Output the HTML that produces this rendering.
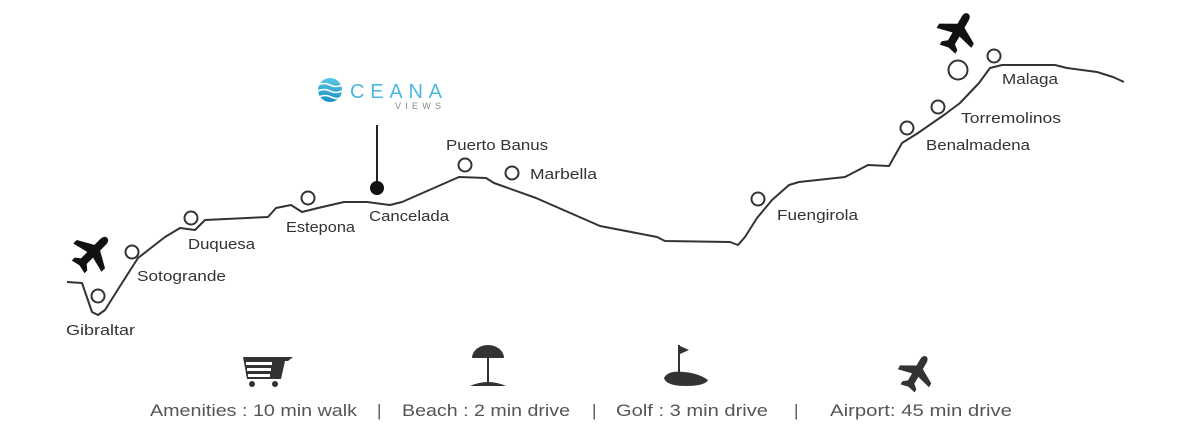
<!DOCTYPE html>
<html><head><meta charset="utf-8"><style>
body{margin:0;background:#fff;width:1200px;height:443px;overflow:hidden}
svg{display:block}
text{font-family:"Liberation Sans",sans-serif}
</style></head><body>
<svg width="1200" height="443" viewBox="0 0 1200 443">
<defs><linearGradient id="g" x1="0" y1="0" x2="0" y2="1"><stop offset="0" stop-color="#5ac8e8"/><stop offset="1" stop-color="#1a8fc4"/></linearGradient>
<path id="pl" d="M0,-20 c3,0 4,3 4,6 v8 l16,9 v5 l-16,-4 v9 l5,4 v4 l-9,-2 l-9,2 v-4 l5,-4 v-9 l-16,4 v-5 l16,-9 v-8 c0,-3 1,-6 4,-6z"/></defs>
<path d="M67,282 L82,283 L92,312 L98,315 L105,310 L122,283 L138,258 L165,237 L180,228 L195,230 L205,220 L268,217 L276,208 L291,205 L302,212 L318,208 L344,202 L367,202 L390,205 L402,202 L459,177 L486,178 L494,183 L536,198 L600,226 L657,237 L665,241 L730,242 L738,245 L745,237 L757,218 L772,200 L789,185 L799,182 L845,177 L868,165 L889,166 L902,143 L918,133 L944,115 L960,103 L979,83 L990,68 L1002,65 L1055,65 L1067,68 L1097,72 L1113,77 L1124,82" fill="none" stroke="#333" stroke-width="2" stroke-linejoin="round"/>
<g fill="#fff" stroke="#333" stroke-width="2">
<circle cx="98" cy="296" r="6.5"/><circle cx="132" cy="252" r="6.5"/><circle cx="191" cy="218" r="6.5"/><circle cx="308" cy="198" r="6.5"/><circle cx="465" cy="165" r="6.5"/><circle cx="512" cy="173" r="6.5"/><circle cx="758" cy="199" r="6.5"/><circle cx="907" cy="128" r="6.5"/><circle cx="938" cy="107" r="6.5"/><circle cx="958" cy="70" r="9.5"/><circle cx="994" cy="56" r="6.5"/>
</g>
<line x1="377" y1="125" x2="377" y2="185" stroke="#222" stroke-width="2"/>
<circle cx="377" cy="188" r="7" fill="#111"/>
<circle cx="330" cy="90" r="12" fill="url(#g)"/>
<g stroke="#fff" stroke-width="1.6" fill="none"><path d="M318,85 q6,-3 12,0 t12,0"/><path d="M318,91 q6,-3 12,0 t12,0"/><path d="M319,97 q6,-3 12,0 t11,0"/></g>
<text x="350" y="98" font-size="20" fill="#4cb8de" textLength="92" lengthAdjust="spacing">CEANA</text>
<text x="395" y="109" font-size="9" fill="#888" textLength="46" lengthAdjust="spacing">VIEWS</text>
<g font-size="15" fill="#333">
<text x="66" y="335" textLength="69" lengthAdjust="spacingAndGlyphs">Gibraltar</text><text x="137" y="281" textLength="89" lengthAdjust="spacingAndGlyphs">Sotogrande</text><text x="188" y="249" textLength="67" lengthAdjust="spacingAndGlyphs">Duquesa</text><text x="286" y="232" textLength="69" lengthAdjust="spacingAndGlyphs">Estepona</text><text x="369" y="221" textLength="80" lengthAdjust="spacingAndGlyphs">Cancelada</text><text x="446" y="150" textLength="102" lengthAdjust="spacingAndGlyphs">Puerto Banus</text><text x="530" y="179" textLength="67" lengthAdjust="spacingAndGlyphs">Marbella</text><text x="777" y="220" textLength="81" lengthAdjust="spacingAndGlyphs">Fuengirola</text><text x="926" y="150" textLength="104" lengthAdjust="spacingAndGlyphs">Benalmadena</text><text x="961" y="123" textLength="100" lengthAdjust="spacingAndGlyphs">Torremolinos</text><text x="1002" y="84" textLength="56" lengthAdjust="spacingAndGlyphs">Malaga</text>
</g>
<use href="#pl" fill="#111" transform="translate(93,252) rotate(45)"/>
<use href="#pl" fill="#111" transform="translate(958,31) rotate(30)"/>
<g fill="#333">
<path d="M243,357 h50 l-5,4 h-3 l-4,18 h-34 z"/>
<rect x="246" y="362" width="26" height="3" fill="#fff"/><rect x="247" y="368" width="24" height="3" fill="#fff"/><rect x="248" y="374" width="22" height="3" fill="#fff"/>
<circle cx="252" cy="384" r="3"/><circle cx="275" cy="384" r="3"/>
<path d="M472,358 a16,13 0 0 1 32,0 z"/><rect x="487" y="355" width="2" height="28"/><path d="M470,386 q18,-8 36,0 z"/>
<rect x="678" y="345" width="2" height="30"/><path d="M680,346 l9,4 l-9,4 z"/>
<path d="M664,378 q4,-8 20,-6 q14,1 24,8 q-3,6 -22,6 q-20,0 -22,-8 z"/>
</g>
<use href="#pl" fill="#333" transform="translate(917,372) rotate(30) scale(0.9)"/>
<g font-size="17" fill="#555">
<text x="150" y="416" textLength="207" lengthAdjust="spacingAndGlyphs">Amenities : 10 min walk</text><text x="377" y="416">|</text>
<text x="402" y="416" textLength="168" lengthAdjust="spacingAndGlyphs">Beach : 2 min drive</text><text x="592" y="416">|</text>
<text x="616" y="416" textLength="152" lengthAdjust="spacingAndGlyphs">Golf : 3 min drive</text><text x="794" y="416">|</text>
<text x="830" y="416" textLength="182" lengthAdjust="spacingAndGlyphs">Airport: 45 min drive</text>
</g>
</svg>
</body></html>
